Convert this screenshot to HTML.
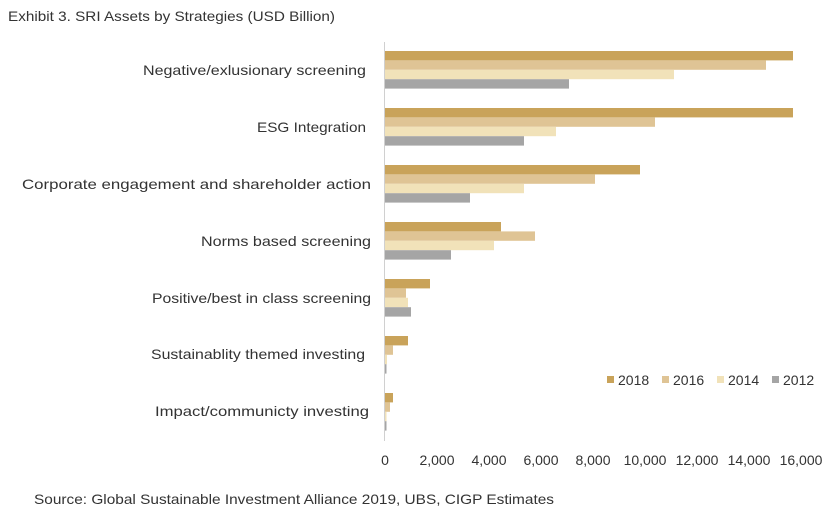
<!DOCTYPE html>
<html><head><meta charset="utf-8"><style>
body{margin:0;background:#fff;width:839px;height:519px;overflow:hidden}
svg{font-family:"Liberation Sans",sans-serif;}
</style></head><body>
<svg width="839" height="519" xmlns="http://www.w3.org/2000/svg">
<text x="8" y="21" font-size="14" fill="#333" textLength="327" lengthAdjust="spacingAndGlyphs">Exhibit 3. SRI Assets  by Strategies (USD Billion)</text>
<line x1="384.5" y1="42" x2="384.5" y2="441" stroke="#d0d0d0" stroke-width="1"/>
<g id="bars">
<rect x="385" y="51" width="408" height="9.4" fill="#C9A35A"/>
<rect x="385" y="60.4" width="381" height="9.4" fill="#DFC495"/>
<rect x="385" y="69.8" width="289" height="9.4" fill="#F1E2B9"/>
<rect x="385" y="79.2" width="184" height="9.4" fill="#A5A5A5"/>

<rect x="385" y="108" width="408" height="9.4" fill="#C9A35A"/>
<rect x="385" y="117.4" width="270" height="9.4" fill="#DFC495"/>
<rect x="385" y="126.8" width="171" height="9.4" fill="#F1E2B9"/>
<rect x="385" y="136.2" width="139" height="9.4" fill="#A5A5A5"/>

<rect x="385" y="165" width="255" height="9.4" fill="#C9A35A"/>
<rect x="385" y="174.4" width="210" height="9.4" fill="#DFC495"/>
<rect x="385" y="183.8" width="139" height="9.4" fill="#F1E2B9"/>
<rect x="385" y="193.2" width="85" height="9.4" fill="#A5A5A5"/>

<rect x="385" y="222" width="116" height="9.4" fill="#C9A35A"/>
<rect x="385" y="231.4" width="150" height="9.4" fill="#DFC495"/>
<rect x="385" y="240.8" width="109" height="9.4" fill="#F1E2B9"/>
<rect x="385" y="250.2" width="66" height="9.4" fill="#A5A5A5"/>

<rect x="385" y="279" width="45" height="9.4" fill="#C9A35A"/>
<rect x="385" y="288.4" width="21" height="9.4" fill="#DFC495"/>
<rect x="385" y="297.8" width="23" height="9.4" fill="#F1E2B9"/>
<rect x="385" y="307.2" width="26" height="9.4" fill="#A5A5A5"/>

<rect x="385" y="336" width="23" height="9.4" fill="#C9A35A"/>
<rect x="385" y="345.4" width="8" height="9.4" fill="#DFC495"/>
<rect x="385" y="354.8" width="2" height="9.4" fill="#F1E2B9"/>
<rect x="385" y="364.2" width="1.5" height="9.4" fill="#A5A5A5"/>

<rect x="385" y="393" width="8" height="9.4" fill="#C9A35A"/>
<rect x="385" y="402.4" width="5" height="9.4" fill="#DFC495"/>
<rect x="385" y="411.8" width="1.5" height="9.4" fill="#F1E2B9"/>
<rect x="385" y="421.2" width="1.5" height="9.4" fill="#A5A5A5"/>
</g>
<g font-size="14" fill="#333" lengthAdjust="spacingAndGlyphs">
<text x="143" y="75" textLength="223" lengthAdjust="spacingAndGlyphs">Negative/exlusionary screening</text>
<text x="257" y="132" textLength="109" lengthAdjust="spacingAndGlyphs">ESG Integration</text>
<text x="22" y="189" textLength="349" lengthAdjust="spacingAndGlyphs">Corporate engagement and shareholder action</text>
<text x="201" y="246" textLength="170" lengthAdjust="spacingAndGlyphs">Norms based screening</text>
<text x="152" y="303" textLength="219" lengthAdjust="spacingAndGlyphs">Positive/best in class screening</text>
<text x="151" y="359" textLength="214" lengthAdjust="spacingAndGlyphs">Sustainablity themed investing</text>
<text x="155" y="416" textLength="214" lengthAdjust="spacingAndGlyphs">Impact/communicty investing</text>
</g>
<g font-size="14" fill="#333" text-anchor="middle">
<text x="385" y="465">0</text>
<text x="437" y="465">2,000</text>
<text x="489" y="465">4,000</text>
<text x="541" y="465">6,000</text>
<text x="593" y="465">8,000</text>
<text x="645" y="465">10,000</text>
<text x="697" y="465">12,000</text>
<text x="749" y="465">14,000</text>
<text x="801" y="465">16,000</text>
</g>
<g font-size="14" fill="#333">
<rect x="607" y="376" width="7" height="7" fill="#C9A35A"/><text x="618" y="385">2018</text>
<rect x="662" y="376" width="7" height="7" fill="#DFC495"/><text x="673" y="385">2016</text>
<rect x="717" y="376" width="7" height="7" fill="#F1E2B9"/><text x="728" y="385">2014</text>
<rect x="772" y="376" width="7" height="7" fill="#A5A5A5"/><text x="783" y="385">2012</text>
</g>
<text x="34" y="504" font-size="14" fill="#333" textLength="520" lengthAdjust="spacingAndGlyphs">Source: Global Sustainable Investment Alliance 2019, UBS, CIGP Estimates</text>
</svg>
</body></html>
